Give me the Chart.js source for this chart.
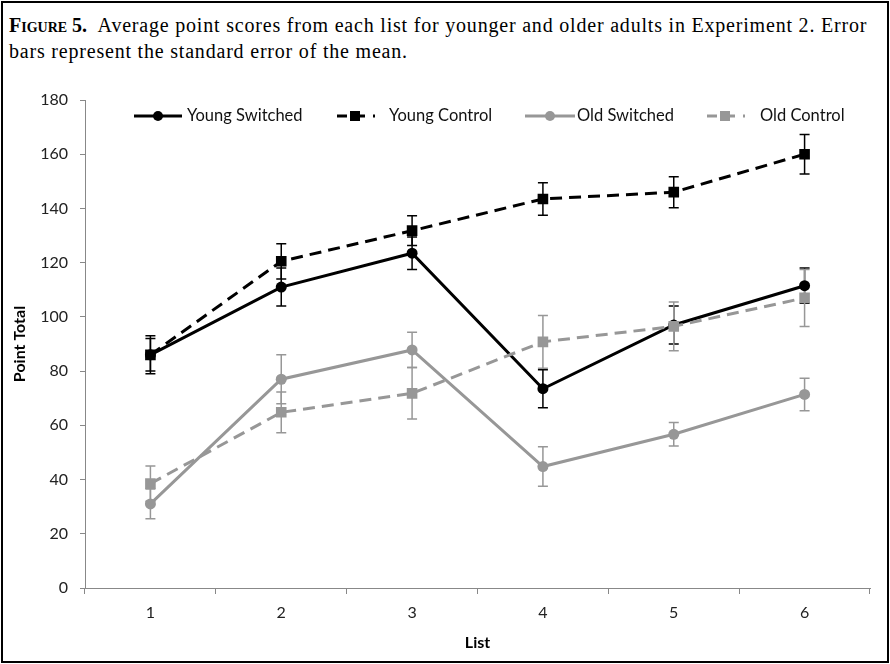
<!DOCTYPE html>
<html>
<head>
<meta charset="utf-8">
<script src="https://cdn.jsdelivr.net/npm/chart.js@4"></script>
<style>
  body { margin:0; background:#fff; }
  #fig { position:absolute; left:1px; top:1px; width:884px; height:658px; border:2px solid #000; }
  #cap { position:absolute; left:6px; top:9px; width:878px; white-space:nowrap; font-family:"Liberation Serif", serif; font-size:20px; letter-spacing:0.8px; line-height:26px; color:#000; }
  #cap b { font-variant:small-caps; letter-spacing:0; }
  #wrap { position:absolute; left:0; top:70px; width:890px; height:594px; }
</style>
</head>
<body>
<div id="fig">
  <div id="cap"><b>Figure 5.</b>&nbsp; Average point scores from each list for younger and older adults in Experiment 2. Error<br>bars represent the standard error of the mean.</div>
</div>
<div id="wrap"><canvas id="chart" width="890" height="594"></canvas></div>
<script>
// ---------- DATA ----------
const LISTS = ["1","2","3","4","5","6"];
const YOUNG_SWITCHED = [86, 111, 123.5, 73.5, 97, 111.5];
const YOUNG_SWITCHED_SE = [6, 7, 6, 7, 7, 6.5];
const YOUNG_CONTROL = [86, 120.5, 131.8, 143.5, 146, 160];
const YOUNG_CONTROL_SE = [7, 6.5, 5.5, 6, 5.7, 7.3];
const OLD_SWITCHED = [31, 77, 87.8, 44.8, 56.7, 71.4];
const OLD_SWITCHED_SE = [5.5, 9, 6.5, 7.3, 4.3, 6];
const OLD_CONTROL = [38.5, 64.8, 71.8, 90.8, 96.5, 107];
const OLD_CONTROL_SE = [6.5, 7.5, 9.5, 9.7, 9, 10.5];

const BLACK = "#000000";
const GRAY = "#979797";
const FONT = "Lato, 'Open Sans', sans-serif";

// ---------- PLUGINS ----------
// error bars, drawn under the markers
const errorBars = {
  id: "errorBars",
  beforeDatasetsDraw(chart) {
    const ctx = chart.ctx;
    const y = chart.scales.y;
    chart.data.datasets.forEach((ds, i) => {
      const meta = chart.getDatasetMeta(i);
      ctx.save();
      ctx.strokeStyle = ds.errColor;
      ctx.lineWidth = 1.5;
      meta.data.forEach((pt, j) => {
        const top = y.getPixelForValue(ds.data[j] + ds.se[j]);
        const bot = y.getPixelForValue(ds.data[j] - ds.se[j]);
        ctx.beginPath();
        ctx.moveTo(pt.x, top); ctx.lineTo(pt.x, bot);
        ctx.moveTo(pt.x - 5, top); ctx.lineTo(pt.x + 5, top);
        ctx.moveTo(pt.x - 5, bot); ctx.lineTo(pt.x + 5, bot);
        ctx.stroke();
      });
      ctx.restore();
    });
  }
};

// legend: line sample with marker, then label
const LEGEND_POS = [
  { x0:134, x1:182, tx:187 },
  { x0:335, x1:375, tx:389 },
  { x0:525, x1:575, tx:577 },
  { x0:705, x1:745, tx:760 }
];
const lineLegend = {
  id: "lineLegend",
  afterDraw(chart) {
    const ctx = chart.ctx;
    const ly = 46;
    chart.data.datasets.forEach((ds, i) => {
      const p = LEGEND_POS[i];
      ctx.save();
      ctx.strokeStyle = ds.borderColor;
      ctx.lineWidth = 3;
      ctx.setLineDash(ds.borderDash.length ? [10, 8] : []);
      ctx.lineDashOffset = -2;
      ctx.beginPath();
      ctx.moveTo(p.x0, ly); ctx.lineTo(p.x1, ly);
      ctx.stroke();
      ctx.setLineDash([]);
      ctx.fillStyle = ds.pointBackgroundColor;
      const mx = (p.x0 + p.x1) / 2;
      if (ds.pointStyle === "rect") {
        ctx.fillRect(mx - 5, ly - 5, 10, 10);
      } else {
        ctx.beginPath(); ctx.arc(mx, ly, 5, 0, Math.PI * 2); ctx.fill();
      }
      ctx.fillStyle = "#111";
      ctx.font = "16.5px " + FONT;
      ctx.textBaseline = "middle";
      ctx.fillText(ds.label, p.tx, ly);
      ctx.restore();
    });
  }
};

// ---------- CHART ----------
function series(label, data, se, color, dashed, square, order) {
  return {
    label, data, se, order,
    errColor: color,
    borderColor: color,
    backgroundColor: color,
    pointBackgroundColor: color,
    pointBorderColor: color,
    borderWidth: 3,
    borderDash: dashed ? [12, 7] : [],
    pointStyle: square ? "rect" : "circle",
    pointRadius: square ? 7.5 : 5.5,
    pointBorderWidth: 0,
    tension: 0
  };
}

new Chart(document.getElementById("chart"), {
  type: "line",
  data: {
    labels: LISTS,
    datasets: [
      series("Young Switched", YOUNG_SWITCHED, YOUNG_SWITCHED_SE, BLACK, false, false, 4),
      series("Young Control", YOUNG_CONTROL, YOUNG_CONTROL_SE, BLACK, true, true, 3),
      series("Old Switched", OLD_SWITCHED, OLD_SWITCHED_SE, GRAY, false, false, 2),
      series("Old Control", OLD_CONTROL, OLD_CONTROL_SE, GRAY, true, true, 1)
    ]
  },
  options: {
    responsive: false,
    animation: false,
    devicePixelRatio: 1,
    layout: { padding: { top:30, left:0, right:20, bottom:0 } },
    plugins: { legend: { display:false }, tooltip: { enabled:false } },
    scales: {
      x: {
        offset: true,
        grid: { offset:true, drawOnChartArea:false, tickLength:6, color:"#888" },
        border: { color:"#888", width:1 },
        ticks: { font:{ family:FONT, size:16 }, color:"#222", padding:9 },
        title: { display:true, text:"List", font:{ family:FONT, size:16, weight:"bold" }, color:"#000", padding:{ top:12, bottom:12 } },
        afterFit: s => { s.height = 76; }
      },
      y: {
        min: 0, max: 180,
        grid: { drawOnChartArea:false, tickLength:5, color:"#888" },
        border: { color:"#888", width:1 },
        ticks: { stepSize:20, font:{ family:FONT, size:16 }, color:"#222", padding:12 },
        title: { display:true, text:"Point Total", font:{ family:FONT, size:16, weight:"bold" }, color:"#000", padding:{ top:10, bottom:10 } },
        afterFit: s => { s.width = 85; }
      }
    }
  },
  plugins: [errorBars, lineLegend]
});
</script>
</body>
</html>
